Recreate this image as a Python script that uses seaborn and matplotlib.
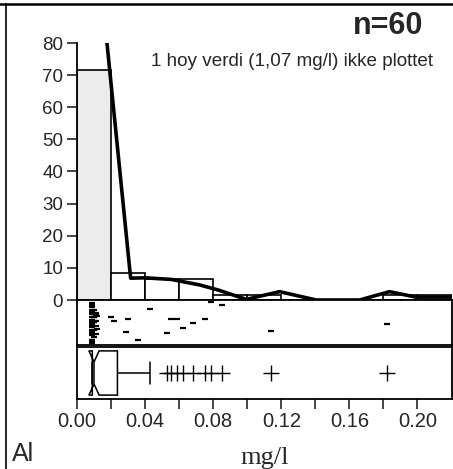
import numpy as np
import pandas as pd
import matplotlib
matplotlib.use("Agg")
import matplotlib.pyplot as plt
from matplotlib.lines import Line2D
import seaborn as sns

# Al concentrations (mg/l), n=60, one high value (1.07) outside the plot range
al_values = ([0.009] * 28 + [0.010] * 8 + [0.011] * 5 + [0.012] * 2
             + [0.020, 0.022, 0.029, 0.030, 0.036]
             + [0.043, 0.053, 0.055, 0.059]
             + [0.062, 0.068, 0.075, 0.079]
             + [0.085, 0.114, 0.182, 1.07])

# smoothed frequency curve (percent)
curve_x = [0.0176, 0.0315, 0.040, 0.0555, 0.072, 0.083, 0.0915, 0.0995,
           0.119, 0.1405, 0.166, 0.1836, 0.199, 0.22]
curve_y = [80, 6.8, 6.9, 6.4, 4.7, 3.1, 1.6, 0.2, 2.6, 0.0, 0.0, 2.6, 0.9, 0.9]

x_ticks = [0.00, 0.02, 0.04, 0.06, 0.08, 0.10, 0.12, 0.14, 0.16, 0.18, 0.20]
x_labels = ['0.00', '', '0.04', '', '0.08', '', '0.12', '', '0.16', '', '0.20']
y_ticks = [0, 10, 20, 30, 40, 50, 60, 70, 80]

bin_width = 0.02
x_max = 0.22

sns.set_style('white')
plt.rcParams['font.family'] = ['Liberation Sans Narrow', 'Liberation Sans', 'DejaVu Sans']

df = pd.DataFrame({'Al': al_values})
# values above the axis go into the last bin
df['Al_hist'] = df['Al'].clip(upper=x_max - 1e-6)

fig = plt.figure(figsize=(4.53, 4.69), dpi=100)
left, width = 77 / 453, 374.5 / 453
ax_hist = fig.add_axes([left, 169 / 469, width, 257 / 469])
ax_strip = fig.add_axes([left, 124 / 469, width, 45 / 469], sharex=ax_hist)
ax_box = fig.add_axes([left, 70 / 469, width, 52 / 469], sharex=ax_hist)

# histogram
sns.histplot(data=df, x='Al_hist', stat='percent', binwidth=bin_width,
             binrange=(0, x_max), color='white', edgecolor='black',
             linewidth=1.2, alpha=1, ax=ax_hist)
ax_hist.patches[0].set_facecolor('#ececec')
sns.lineplot(x=curve_x, y=curve_y, color='black', linewidth=2.6,
             sort=False, ax=ax_hist)
ax_hist.set_xlim(0, x_max)
ax_hist.set_ylim(0, 80)
ax_hist.set_yticks(y_ticks)
ax_hist.set_ylabel('')
ax_hist.set_xlabel('')
ax_hist.tick_params(axis='y', left=True, length=7, width=1.2, pad=3,
                    labelsize=13.5)
ax_hist.tick_params(axis='x', bottom=False, labelbottom=False)
for side in ['top', 'right']:
    ax_hist.spines[side].set_visible(False)
for side in ['left', 'bottom']:
    ax_hist.spines[side].set_color('black')
    ax_hist.spines[side].set_linewidth(1.3)

# dot strip
np.random.seed(7)
sns.stripplot(data=df, x='Al', orient='h', jitter=0.42, marker='_',
              color='black', size=5, linewidth=1.6, ax=ax_strip)
ax_strip.set_ylim(0.45, -0.45)
ax_strip.set_xlabel('')
ax_strip.set_ylabel('')
ax_strip.tick_params(bottom=False, left=False, labelbottom=False, labelleft=False)

# box plot
sns.boxplot(data=df, x='Al', orient='h', notch=True, whis=1.5, width=0.85,
            color='white', linecolor='black', linewidth=1.1,
            flierprops=dict(marker='+', markersize=11, markeredgewidth=1.0,
                            markeredgecolor='black'),
            ax=ax_box)
ax_box.set_ylim(0.5, -0.5)
ax_box.set_ylabel('')
ax_box.tick_params(left=False, labelleft=False)
ax_box.set_xticks(x_ticks)
ax_box.set_xticklabels(x_labels)
ax_box.tick_params(axis='x', bottom=True, length=7, width=1.2, pad=2,
                   labelsize=14.5)
ax_box.set_xlabel('mg/l', family='Liberation Serif', fontsize=19, labelpad=12)
ax_box.set_xlim(0, x_max)

for ax in [ax_strip, ax_box]:
    for side in ax.spines:
        ax.spines[side].set_visible(True)
        ax.spines[side].set_color('black')
        ax.spines[side].set_linewidth(1.3)

# texts
fig.text(423 / 453, 1 - 26 / 469, 'n=60', ha='right', va='center',
         fontsize=22, fontweight='bold')
fig.text(433 / 453, 1 - 62 / 469, '1 hoy verdi (1,07 mg/l) ikke plottet',
         ha='right', va='center', fontsize=13.6)
fig.text(12 / 453, 3 / 469, 'Al', ha='left', va='bottom', fontsize=18)

# page frame lines
fig.add_artist(Line2D([0, 1], [1 - 4 / 469] * 2, color='black', linewidth=1.8))
fig.add_artist(Line2D([6 / 453] * 2, [0, 1 - 4 / 469], color='black', linewidth=1.2))

fig.savefig('out.png', dpi=100)
plt.close(fig)
